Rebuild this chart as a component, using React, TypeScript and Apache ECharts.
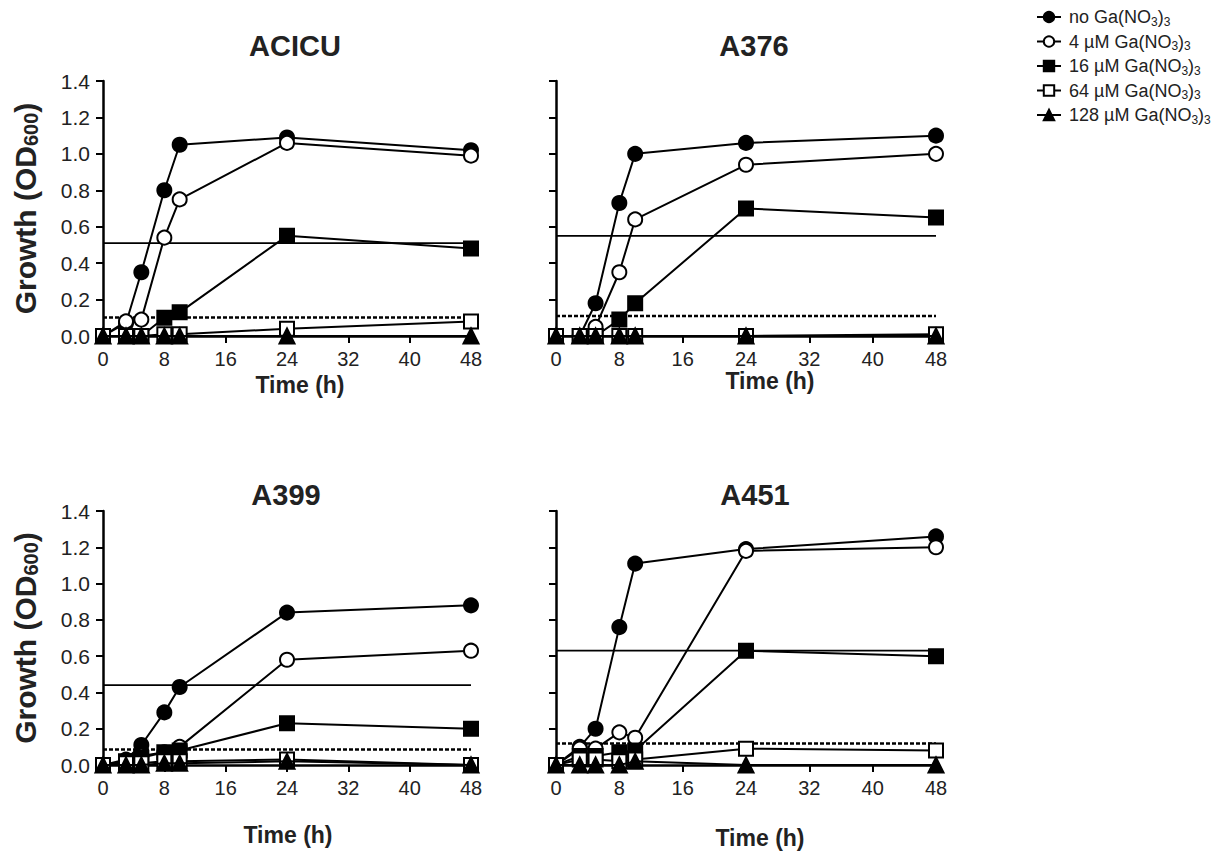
import React, { useEffect, useRef } from "react";
import * as echarts from "echarts";

const times = [0, 3, 5, 8, 10, 24, 48];

const panelTitles = ["ACICU", "A376", "A399", "A451"];
const seriesNames = ["no", "4 µM", "16 µM", "64 µM", "128 µM"];

// ACICU
const acicuNo = [0, 0.07, 0.35, 0.8, 1.05, 1.09, 1.02];
const acicu4 = [0, 0.08, 0.09, 0.54, 0.75, 1.06, 0.99];
const acicu16 = [0, 0, 0, 0.1, 0.13, 0.55, 0.48];
const acicu64 = [0, 0, 0, 0.01, 0.01, 0.04, 0.08];
const acicu128 = [0, 0, 0, 0, 0, 0, 0];
const acicuRef = [0.51, 0.102];

// A376
const a376No = [0, 0, 0.18, 0.73, 1.0, 1.06, 1.1];
const a3764 = [0, 0, 0.05, 0.35, 0.64, 0.94, 1.0];
const a37616 = [0, 0, 0, 0.09, 0.18, 0.7, 0.65];
const a37664 = [0, 0, 0, 0, 0, 0, 0.01];
const a376128 = [0, 0, 0, 0, 0, 0, 0];
const a376Ref = [0.55, 0.11];

// A399
const a399No = [0, 0.03, 0.11, 0.29, 0.43, 0.84, 0.88];
const a3994 = [0, 0.02, 0.05, 0.07, 0.1, 0.58, 0.63];
const a39916 = [0, 0.02, 0.04, 0.07, 0.08, 0.23, 0.2];
const a39964 = [0, 0.01, 0.01, 0.02, 0.02, 0.03, 0];
const a399128 = [0, 0, 0, 0.01, 0.01, 0.02, 0];
const a399Ref = [0.44, 0.085];

// A451
const a451No = [0, 0.1, 0.2, 0.76, 1.11, 1.19, 1.26];
const a4514 = [0, 0.09, 0.09, 0.18, 0.15, 1.18, 1.2];
const a45116 = [0, 0.05, 0.05, 0.07, 0.08, 0.63, 0.6];
const a45164 = [0, 0.03, 0.03, 0.02, 0.03, 0.09, 0.08];
const a451128 = [0, 0, 0, 0, 0.02, 0, 0];
const a451Ref = [0.63, 0.118];

const panels = [
  { values: [acicuNo, acicu4, acicu16, acicu64, acicu128], ref: acicuRef },
  { values: [a376No, a3764, a37616, a37664, a376128], ref: a376Ref },
  { values: [a399No, a3994, a39916, a39964, a399128], ref: a399Ref },
  { values: [a451No, a4514, a45116, a45164, a451128], ref: a451Ref },
];

const FONT = "Liberation Sans, Arial, sans-serif";
const TXT = "#222";

const symbols = ["circle", "circle", "rect", "rect", "triangle"];
const filled = [true, false, true, false, true];

const grids = [
  { left: 103, top: 81, width: 368, height: 255 },
  { left: 556, top: 81, width: 380, height: 255 },
  { left: 103, top: 511, width: 368, height: 254 },
  { left: 556, top: 511, width: 380, height: 254 },
];

// label placements (centres)
const titlePos = [
  [295, 46],
  [754, 46],
  [286, 495],
  [755, 495],
];
const timePos = [
  [300, 385],
  [770, 381],
  [288, 835],
  [760, 838],
];

export default function App() {
  const ref = useRef<HTMLDivElement>(null);
  useEffect(() => {
    const chart = echarts.init(ref.current!, null, { renderer: "svg" });

    const xAxis = grids.map((_, i) => ({
      type: "value",
      gridIndex: i,
      min: 0,
      max: 48,
      interval: 8,
      axisLine: { show: true, lineStyle: { color: "#000", width: 2.5 } },
      axisTick: { show: true, inside: false, length: 7, lineStyle: { color: "#000", width: 2 } },
      axisLabel: { fontFamily: FONT, fontSize: 20, color: TXT, margin: 13 },
      splitLine: { show: false },
    }));

    const yAxis = grids.map((_, i) => ({
      type: "value",
      gridIndex: i,
      min: 0,
      max: 1.4,
      interval: 0.2,
      name: i % 2 === 0 ? "{a|Growth (OD}{s|600}{a|)}" : "",
      nameLocation: "middle",
      nameRotate: 90,
      nameGap: 62,
      nameTextStyle: {
        rich: {
          a: { fontFamily: FONT, fontSize: 30, fontWeight: "bold", color: TXT },
          s: { fontFamily: FONT, fontSize: 20, fontWeight: "bold", color: TXT, padding: [12, 0, 0, 0] },
        },
      },
      axisLine: { show: true, lineStyle: { color: "#000", width: 2.5 } },
      axisTick: { show: true, inside: false, length: 7, lineStyle: { color: "#000", width: 2 } },
      axisLabel: {
        show: i % 2 === 0,
        fontFamily: FONT,
        fontSize: 21,
        color: TXT,
        margin: 13,
        formatter: (v: number) => v.toFixed(1),
      },
      splitLine: { show: false },
    }));

    const series: any[] = [];
    panels.forEach((p, gi) => {
      series.push({
        type: "line",
        xAxisIndex: gi,
        yAxisIndex: gi,
        data: [
          [0, p.ref[0]],
          [48, p.ref[0]],
        ],
        symbol: "none",
        lineStyle: { color: "#000", width: 1.8 },
        silent: true,
        z: 1,
      });
      series.push({
        type: "line",
        xAxisIndex: gi,
        yAxisIndex: gi,
        data: [
          [0, p.ref[1]],
          [48, p.ref[1]],
        ],
        symbol: "none",
        lineStyle: { color: "#000", width: 2.5, type: [4, 2] },
        silent: true,
        z: 1,
      });
      p.values.forEach((vals, si) => {
        series.push({
          type: "line",
          name: seriesNames[si],
          xAxisIndex: gi,
          yAxisIndex: gi,
          data: times.map((t, k) => [t, vals[k]]),
          symbol: symbols[si],
          symbolSize: si === 4 ? 15 : 14,
          showAllSymbol: true,
          lineStyle: { color: "#000", width: 2 },
          itemStyle: {
            color: filled[si] ? "#000" : "#fff",
            borderColor: "#000",
            borderWidth: 2,
          },
          z: 2 + si,
        });
      });
    });

    const legendText: Record<string, string> = {
      no: "{t|no Ga(NO}{s|3}{t|)}{s|3}",
      "4 µM": "{t|4 µM Ga(NO}{s|3}{t|)}{s|3}",
      "16 µM": "{t|16 µM Ga(NO}{s|3}{t|)}{s|3}",
      "64 µM": "{t|64 µM Ga(NO}{s|3}{t|)}{s|3}",
      "128 µM": "{t|128 µM Ga(NO}{s|3}{t|)}{s|3}",
    };

    const graphics: any[] = [];
    panelTitles.forEach((t, i) => {
      graphics.push({
        type: "text",
        x: titlePos[i][0],
        y: titlePos[i][1],
        style: {
          text: t,
          fontFamily: FONT,
          fontSize: 29,
          fontWeight: "bold",
          fill: TXT,
          align: "center",
          verticalAlign: "middle",
        },
      });
      graphics.push({
        type: "text",
        x: timePos[i][0],
        y: timePos[i][1],
        style: {
          text: "Time (h)",
          fontFamily: FONT,
          fontSize: 23,
          fontWeight: "bold",
          fill: TXT,
          align: "center",
          verticalAlign: "middle",
        },
      });
    });

    chart.setOption({
      animation: false,
      backgroundColor: "#fff",
      graphic: graphics,
      legend: {
        orient: "vertical",
        left: 1031,
        top: 3,
        itemWidth: 24,
        itemHeight: 13,
        itemGap: 5,
        data: seriesNames,
        formatter: (name: string) => legendText[name],
        textStyle: {
          padding: [0, 0, 0, 3],
          rich: {
            t: { fontFamily: FONT, fontSize: 18, color: TXT, lineHeight: 21 },
            s: { fontFamily: FONT, fontSize: 12, color: TXT, padding: [9, 0, 0, 0] },
          },
        },
      },
      grid: grids,
      xAxis,
      yAxis,
      series,
    });
    return () => chart.dispose();
  }, []);
  return (
    <div
      ref={ref}
      style={{ position: "fixed", left: 0, top: 0, width: 1225, height: 857, background: "#fff" }}
    />
  );
}
